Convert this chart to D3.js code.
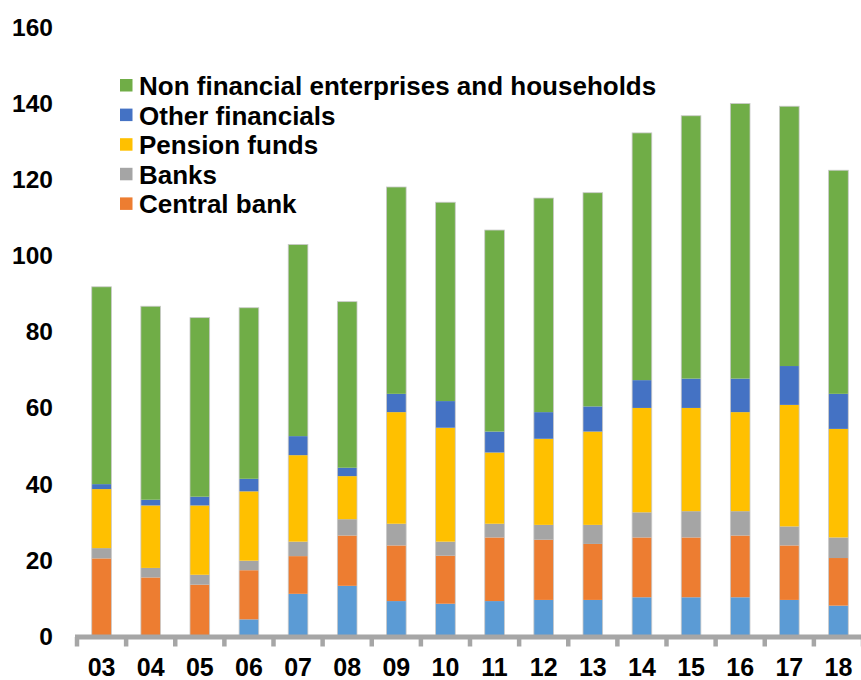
<!DOCTYPE html>
<html>
<head>
<meta charset="utf-8">
<script src="https://cdn.jsdelivr.net/npm/d3@7"></script>
<style>
  html, body { margin: 0; padding: 0; background: #fff; }
  svg { display: block; }
  text { font-family: "Liberation Sans", Arial, sans-serif; font-weight: bold; fill: #000; }
</style>
</head>
<body>
<svg id="chart" width="861" height="680"></svg>
<script>
// ---- data ----
const years = ["03","04","05","06","07","08","09","10","11","12","13","14","15","16","17","18"];
const unlabelled   = [0, 0, 0, 4.5, 11.2, 13.3, 9.3, 8.6, 9.3, 9.6, 9.6, 10.3, 10.3, 10.3, 9.6, 8.1];
const centralBank  = [20.5, 15.5, 13.6, 12.9, 9.9, 13.2, 14.6, 12.6, 16.7, 15.8, 14.7, 15.7, 15.7, 16.2, 14.3, 12.5];
const banks        = [2.7, 2.5, 2.6, 2.5, 3.8, 4.3, 5.7, 3.7, 3.6, 3.9, 5.0, 6.6, 6.9, 6.4, 5.0, 5.4];
const pensionFunds = [15.5, 16.4, 18.2, 18.2, 22.7, 11.3, 29.3, 29.9, 18.7, 22.6, 24.5, 27.4, 27.1, 26.0, 31.9, 28.5];
const otherFin     = [1.3, 1.5, 2.3, 3.3, 5.0, 2.2, 4.8, 7.0, 5.5, 7.0, 6.6, 7.3, 7.7, 8.8, 10.2, 9.2];
const nonFinancial = [51.8, 50.8, 47.0, 44.9, 50.3, 43.6, 54.3, 52.2, 52.9, 56.2, 56.1, 64.9, 69.0, 72.2, 68.2, 58.7];
const yTicks = [0, 20, 40, 60, 80, 100, 120, 140, 160];

const seriesKeys   = ["unlabelled", "Central bank", "Banks", "Pension funds", "Other financials", "Non financial enterprises and households"];
const seriesValues = [unlabelled, centralBank, banks, pensionFunds, otherFin, nonFinancial];
const seriesColors = ["#5b9bd5", "#ed7d31", "#a5a5a5", "#ffc000", "#4472c4", "#70ad47"];
const legendKeys   = ["Non financial enterprises and households", "Other financials", "Pension funds", "Banks", "Central bank"];

// ---- build table ----
const table = years.map((yr, i) => {
  const row = { year: yr };
  seriesKeys.forEach((k, j) => row[k] = seriesValues[j][i]);
  return row;
});
const stacked = d3.stack().keys(seriesKeys)(table);
const color = d3.scaleOrdinal().domain(seriesKeys).range(seriesColors);

// ---- scales ----
const svg = d3.select("#chart");
const x = d3.scaleBand().domain(years).range([77, 863]).padding(0);
const y = d3.scaleLinear().domain([0, 160]).range([636.5, 27]);
const barW = x.bandwidth() * 0.4;
const barX = d => x(d) + (x.bandwidth() - barW) / 2;

// ---- bars ----
const layers = svg.append("g").selectAll("g").data(stacked).join("g")
  .attr("fill", d => color(d.key));
layers.selectAll("rect").data(d => d).join("rect")
  .attr("x", d => barX(d.data.year))
  .attr("width", barW)
  .attr("y", d => y(d[1]))
  .attr("height", d => y(d[0]) - y(d[1]));

// thin light outline around each bar
const totals = table.map(r => ({ year: r.year, total: d3.sum(seriesKeys, k => r[k]) }));
svg.append("g").selectAll("rect").data(totals).join("rect")
  .attr("x", d => barX(d.year))
  .attr("width", barW)
  .attr("y", d => y(d.total))
  .attr("height", d => y(0) - y(d.total))
  .attr("fill", "none")
  .attr("stroke", "#c9c9c9")
  .attr("stroke-width", 0.8);

// ---- x axis ----
const axisY = y(0) + 0.5;
const xAxis = svg.append("g");
xAxis.append("line")
  .attr("x1", 75).attr("x2", 861)
  .attr("y1", axisY).attr("y2", axisY)
  .attr("stroke", "#a6a6a6").attr("stroke-width", 5);
const boundaries = years.map(d => x(d)).concat([x(years[years.length - 1]) + x.bandwidth()]);
xAxis.selectAll("line.tick").data(boundaries).join("line")
  .attr("class", "tick")
  .attr("x1", d => d).attr("x2", d => d)
  .attr("y1", axisY).attr("y2", axisY + 9.5)
  .attr("stroke", "#a6a6a6").attr("stroke-width", 4.5);
xAxis.selectAll("text").data(years).join("text")
  .attr("x", d => x(d) + x.bandwidth() / 2)
  .attr("y", 667)
  .attr("text-anchor", "middle")
  .attr("dominant-baseline", "central")
  .attr("font-size", 25)
  .text(d => d);

// ---- y axis labels ----
svg.append("g").selectAll("text").data(yTicks).join("text")
  .attr("x", 53)
  .attr("y", d => y(d))
  .attr("text-anchor", "end")
  .attr("dominant-baseline", "central")
  .attr("font-size", 24.5)
  .text(d => d);

// ---- legend ----
const legend = svg.append("g").selectAll("g").data(legendKeys).join("g")
  .attr("transform", (d, i) => `translate(120, ${85.5 + i * 29.6})`);
legend.append("rect")
  .attr("x", 0).attr("y", -6.5).attr("width", 12.5).attr("height", 12.5)
  .attr("fill", d => color(d));
legend.append("text")
  .attr("x", 19).attr("y", 0.5)
  .attr("dominant-baseline", "central")
  .attr("font-size", 26)
  .text(d => d);
</script>
</body>
</html>
